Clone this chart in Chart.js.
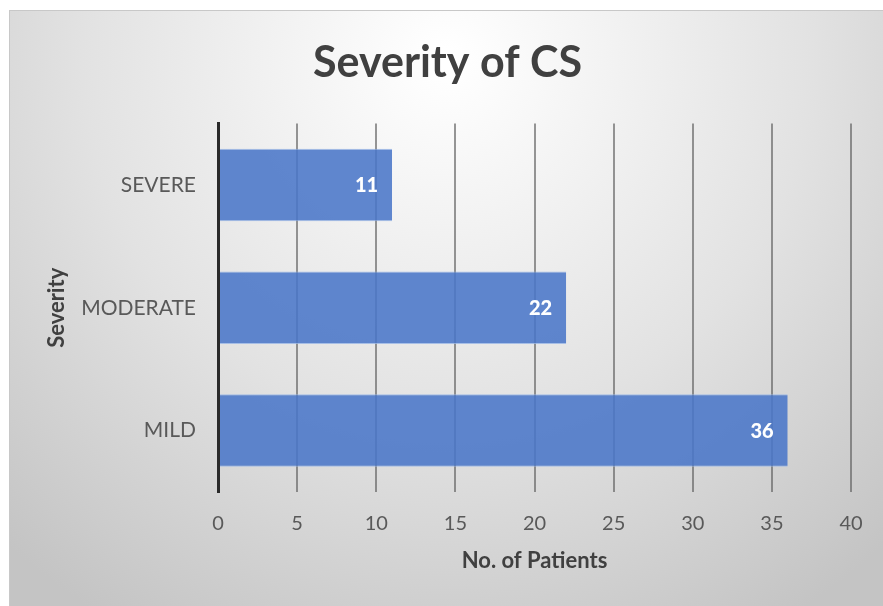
<!DOCTYPE html>
<html lang="en">
<head>
    <meta charset="UTF-8">
    <title>Severity of CS</title>
    <script src="https://cdn.jsdelivr.net/npm/chart.js@4"></script>
    <style>
        body {
            margin: 0;
            background-color: #ffffff;
        }

        .chart-box {
            position: absolute;
            left: 9px;
            top: 10px;
            width: 874px;
            height: 596px;
            border-top: 1px solid #c8c8c8;
            border-left: 1px solid #c8c8c8;
            box-sizing: border-box;
        }
    </style>
</head>
<body>
    <div class="chart-box">
        <canvas id="severityChart"></canvas>
    </div>

    <script>
        const categories = ['SEVERE', 'MODERATE', 'MILD'];
        const patients = [11, 22, 36];
        const xTicks = [0, 5, 10, 15, 20, 25, 30, 35, 40];

        const textGray = '#595959';
        const titleGray = '#404040';

        // soft grey backdrop like the office chart style
        const backdrop = {
            id: 'backdrop',
            beforeDraw(chart) {
                const ctx = chart.ctx;
                const w = chart.width, h = chart.height;
                const g = ctx.createRadialGradient(w * 0.5, h * 0.08, 10, w * 0.5, h * 0.08, w * 0.75);
                g.addColorStop(0, '#ffffff');
                g.addColorStop(0.55, '#e2e2e2');
                g.addColorStop(1, '#c4c4c4');
                ctx.save();
                ctx.fillStyle = g;
                ctx.fillRect(0, 0, w, h);
                ctx.restore();
            }
        };

        // value labels at the inside end of each bar
        const barLabels = {
            id: 'barLabels',
            afterDatasetsDraw(chart) {
                const ctx = chart.ctx;
                const meta = chart.getDatasetMeta(0);
                ctx.save();
                ctx.font = '900 20px Lato';
                ctx.fillStyle = '#ffffff';
                ctx.textAlign = 'right';
                ctx.textBaseline = 'middle';
                meta.data.forEach((bar, i) => {
                    ctx.fillText(String(patients[i]), bar.x - 14, bar.y + 1);
                });
                ctx.restore();
            }
        };

        new Chart(document.getElementById('severityChart'), {
            type: 'bar',
            data: {
                labels: categories,
                datasets: [{
                    data: patients,
                    backgroundColor: 'rgba(74, 118, 200, 0.88)',
                    borderColor: 'rgba(150, 180, 230, 0.8)',
                    borderWidth: { top: 1, bottom: 1, left: 0, right: 0 },
                    barPercentage: 0.59,
                    categoryPercentage: 1
                }]
            },
            options: {
                indexAxis: 'y',
                responsive: true,
                maintainAspectRatio: false,
                animation: false,
                layout: {
                    padding: { left: 34, right: 32, top: 16, bottom: 28 }
                },
                plugins: {
                    legend: { display: false },
                    tooltip: { enabled: false },
                    title: {
                        display: true,
                        text: 'Severity of CS',
                        color: titleGray,
                        font: { family: 'Lato', size: 43, weight: 'bold' },
                        padding: { top: 10, bottom: 35 }
                    }
                },
                scales: {
                    x: {
                        min: 0,
                        max: 40,
                        afterBuildTicks: (scale) => {
                            scale.ticks = xTicks.map(v => ({ value: v }));
                        },
                        afterFit: (scale) => { scale.height = 86; },
                        grid: {
                            color: (c) => c.index === 0 ? 'rgba(0,0,0,0)' : 'rgba(95, 95, 95, 0.65)',
                            lineWidth: 2,
                            drawTicks: false
                        },
                        border: { display: false },
                        ticks: {
                            color: textGray,
                            font: { family: 'Lato', size: 20 },
                            padding: 20
                        },
                        title: {
                            display: true,
                            text: 'No. of Patients',
                            color: titleGray,
                            font: { family: 'Lato', size: 22, weight: 'bold' },
                            padding: { top: 0, bottom: 4 }
                        }
                    },
                    y: {
                        afterFit: (scale) => { scale.width = 174; },
                        grid: { display: false, drawTicks: false },
                        border: { display: true, color: '#2a2a2a', width: 3, z: 2 },
                        ticks: {
                            color: textGray,
                            font: { family: 'Lato', size: 21 },
                            padding: 22
                        },
                        title: {
                            display: true,
                            text: 'Severity',
                            color: titleGray,
                            font: { family: 'Lato', size: 22, weight: 'bold' },
                            padding: { top: 0, bottom: 0 }
                        }
                    }
                }
            },
            plugins: [backdrop, barLabels]
        });
    </script>
</body>
</html>
